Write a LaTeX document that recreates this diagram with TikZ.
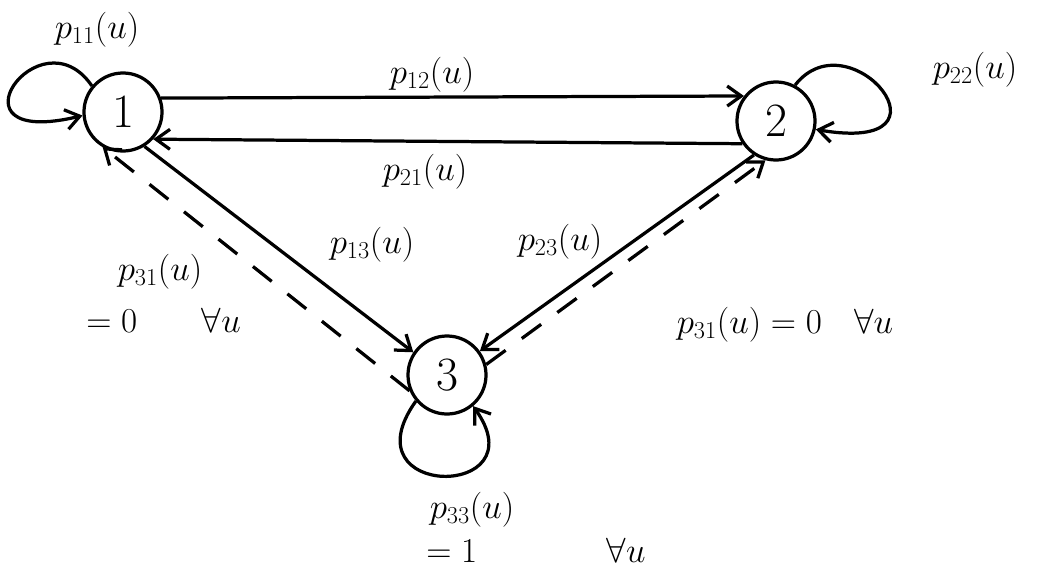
\documentclass[tikz,border=0pt]{standalone}
\usepackage{amsmath,amssymb}
\usepackage{tikz}
\usetikzlibrary{arrows.meta}

\begin{document}
\begin{tikzpicture}[x=0.025cm, y=-0.025cm, line width=2.3pt,
    >={Straight Barb[length=3.5mm,width=5mm]},
    state/.style={draw, circle, minimum size=1.95cm, inner sep=0pt,
      font=\fontsize{34}{36}\selectfont},
    lbl/.style={font=\fontsize{23}{26}\selectfont},
    dashline/.style={dash pattern=on 0.6cm off 0.5cm}]
  \useasboundingbox (0,0) rectangle (1041,573);
  % 三个状态
  \node[state] (n1) at (123,112) {1};
  \node[state] (n2) at (776,121) {2};
  \node[state] (n3) at (447,375) {3};
  % 1 与 2 之间的两条转移
  \draw[->] (n1.20) -- (n2.142);
  \draw[->] (n2.214) -- (n1.-42);
  \node[lbl] (l12) at (432,75) {$p_{12}(u)$};
  \node[lbl] (l21) at (425,172) {$p_{21}(u)$};
  % 到状态 3 的实线，返回的虚线
  \draw[->] (n1.-58) -- (n3.146);
  \draw[->] (n2.237) -- (n3.36);
  \draw[->, dashline] (n3.203) -- (n1.240);
  \draw[->, dashline] (n3.15) -- (n2.255);
  \node[lbl] (l13) at (372,245) {$p_{13}(u)$};
  \node[lbl] (l23) at (560,242) {$p_{23}(u)$};
  \node[lbl] (l31a) at (160,272) {$p_{31}(u)$};
  \node[lbl, anchor=west] (l31b) at (80,320) {$=0\qquad\forall u$};
  \node[lbl] (l32) at (785,325) {$p_{31}(u)=0\quad\forall u$};
  % 自环
  \draw[->] (n1.140) .. controls (40,10) and (-60,150) .. (n1.185);
  \node[lbl] (l11) at (97,30) {$p_{11}(u)$};
  \draw[->] (n2.62) .. controls (850,15) and (965,155) .. (n2.-12);
  \node[lbl] (l22) at (975,70) {$p_{22}(u)$};
  \draw[->] (n3.220) .. controls (345,500) and (540,500) .. (n3.-50);
  \node[lbl] (l33) at (472,510) {$p_{33}(u)$};
  \node[lbl, anchor=west] (l33b) at (420,550) {$=1\qquad\qquad\forall u$};
\end{tikzpicture}
\end{document}
